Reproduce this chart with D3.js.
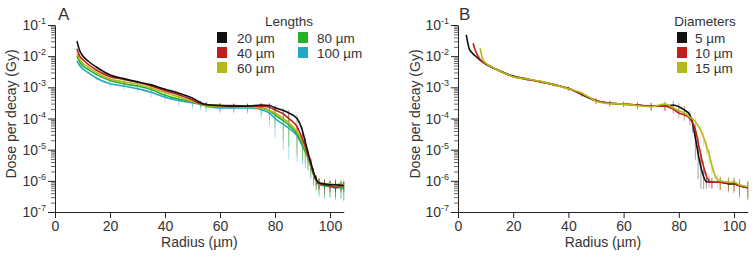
<!DOCTYPE html>
<html><head><meta charset="utf-8">
<script src="https://cdn.jsdelivr.net/npm/d3@7"></script>
<style>
body{margin:0;background:#fff}
text{font-family:"Liberation Sans",Arial,sans-serif;fill:#333}
</style>
</head><body><svg id="c" width="754" height="256"></svg>
<script>
// ---------- Panel A data (lengths) ----------
const radiusA = [8,9,10,12,15,20,25,30,35,40,45,50,53,55,60,65,70,75,78,80,83,85,88,90,91,92,93,94,95,96,98,100,102,104,105];
const doseA20  = [3.0e-2,1.5e-2,1.05e-2,7.0e-3,4.5e-3,2.5e-3,1.9e-3,1.5e-3,1.2e-3,8.7e-4,6.5e-4,4.5e-4,3.2e-4,2.8e-4,2.6e-4,2.5e-4,2.5e-4,2.7e-4,2.6e-4,2.2e-4,1.8e-4,1.5e-4,1.0e-4,4.0e-5,1.8e-5,8e-6,4e-6,1.9e-6,1.1e-6,8.5e-7,8e-7,7.5e-7,7.5e-7,7.2e-7,7.0e-7];
const doseA40  = [1.7e-2,1.0e-2,8.0e-3,5.5e-3,3.6e-3,2.2e-3,1.8e-3,1.45e-3,1.1e-3,7.8e-4,5.8e-4,3.9e-4,3.0e-4,2.8e-4,2.6e-4,2.6e-4,2.5e-4,2.5e-4,2.3e-4,1.9e-4,1.4e-4,1.0e-4,5.5e-5,2.2e-5,1.3e-5,6.5e-6,3.5e-6,1.8e-6,1.1e-6,8.5e-7,7.5e-7,7e-7,6e-7,7e-7,7e-7];
const doseA60  = [1.2e-2,8e-3,6e-3,4.5e-3,3.0e-3,1.85e-3,1.5e-3,1.25e-3,9.5e-4,6.7e-4,5.0e-4,3.5e-4,2.9e-4,2.6e-4,2.4e-4,2.4e-4,2.3e-4,2.1e-4,1.8e-4,1.5e-4,1.0e-4,7.4e-5,3.8e-5,1.8e-5,1.1e-5,6e-6,3.2e-6,1.7e-6,1.0e-6,8.5e-7,8e-7,8e-7,7.5e-7,8e-7,7.5e-7];
const doseA80  = [1.0e-2,6.5e-3,5e-3,3.8e-3,2.6e-3,1.65e-3,1.3e-3,1.1e-3,8.5e-4,5.6e-4,4.2e-4,3.4e-4,2.9e-4,2.6e-4,2.3e-4,2.3e-4,2.3e-4,2.2e-4,1.8e-4,1.3e-4,8.5e-5,6.2e-5,3.2e-5,1.5e-5,9e-6,5.5e-6,3e-6,1.6e-6,1.0e-6,8e-7,7e-7,6.5e-7,7e-7,6e-7,6e-7];
const doseA100 = [7e-3,5e-3,4e-3,3e-3,2.0e-3,1.3e-3,1.1e-3,9e-4,7e-4,4.8e-4,3.8e-4,3.2e-4,2.8e-4,2.5e-4,2.2e-4,2.2e-4,2.2e-4,1.9e-4,1.5e-4,1.0e-4,6.5e-5,4.9e-5,2.8e-5,1.3e-5,8.5e-6,5.5e-6,3e-6,1.6e-6,1.0e-6,7.5e-7,7e-7,6.5e-7,6e-7,6e-7,5.5e-7];
// relative (linear) standard errors
const errA20  = [.05,.05,.05,.05,.05,.05,.05,.08,.08,.1,.1,.1,.1,.15,.15,.15,.15,.15,.2,.2,.2,.25,.25,.3,.3,.3,.3,.3,.3,.35,.3,.3,.4,.3,.3];
const errA40  = [.05,.05,.05,.05,.05,.05,.08,.08,.1,.1,.1,.12,.15,.15,.2,.15,.2,.2,.25,.3,.3,.35,.4,.4,.4,.4,.4,.4,.4,.4,.45,.4,.5,.4,.4];
const errA60  = [.05,.05,.05,.05,.08,.1,.1,.1,.15,.15,.2,.2,.2,.2,.25,.25,.3,.35,.45,.5,.6,.65,.7,.6,.5,.5,.5,.5,.5,.45,.5,.45,.5,.45,.5];
const errA80  = [.05,.05,.05,.08,.1,.1,.15,.15,.2,.2,.2,.25,.25,.25,.3,.3,.3,.4,.5,.6,.75,.8,.8,.7,.6,.6,.6,.55,.5,.55,.6,.55,.6,.55,.6];
const errA100 = [.05,.05,.08,.1,.15,.2,.25,.25,.3,.3,.35,.35,.35,.35,.35,.35,.35,.45,.6,.75,.85,.9,.85,.75,.7,.6,.6,.55,.5,.6,.6,.55,.6,.55,.6];
const seriesNamesA = ["20 µm","40 µm","60 µm","80 µm","100 µm"];
const colorsA = ["#111111","#c0201c","#b3b81b","#26b02a","#22a8c2"];

// ---------- Panel B data (diameters) ----------
const radiusB5  = [3,4,5,6,8,10,12,15,20,25,30,35,40,45,50,55,60,65,70,75,78,80,82,84,85,86,87,88,89,90,92,95,98,100,102,105];
const doseB5    = [4.8e-2,1.8e-2,1.3e-2,1.07e-2,7.5e-3,5.6e-3,4.5e-3,3.4e-3,2.3e-3,1.85e-3,1.5e-3,1.2e-3,9.3e-4,5.8e-4,3.7e-4,3.1e-4,2.9e-4,2.7e-4,2.5e-4,2.5e-4,2.7e-4,2.4e-4,1.9e-4,1.3e-4,7e-5,2.4e-5,7.5e-6,2.8e-6,1.35e-6,9.3e-7,9e-7,9e-7,8e-7,8e-7,7e-7,6e-7];
const errB5     = [.03,.03,.03,.03,.03,.05,.05,.05,.08,.1,.1,.1,.12,.15,.2,.2,.2,.25,.3,.3,.35,.3,.3,.35,.5,.8,.85,.8,.6,.4,.35,.4,.4,.4,.5,.6];
const radiusB10 = [5.5,6,7,8,10,12,15,20,25,30,35,40,45,50,55,60,65,70,75,78,80,82,84,86,87,88,89,90,91,92,95,98,100,102,105];
const doseB10   = [2.6e-2,1.8e-2,1.1e-2,8e-3,5.8e-3,4.6e-3,3.4e-3,2.2e-3,1.8e-3,1.5e-3,1.2e-3,9.0e-4,6.0e-4,3.8e-4,3.1e-4,2.9e-4,2.7e-4,2.5e-4,2.5e-4,2.0e-4,1.5e-4,1.3e-4,1.0e-4,4.5e-5,1.7e-5,6.5e-6,2.8e-6,1.4e-6,1.0e-6,9e-7,9e-7,8.5e-7,8e-7,7e-7,6e-7];
const errB10    = [.03,.03,.03,.03,.05,.05,.05,.08,.1,.1,.12,.15,.15,.2,.2,.2,.2,.25,.3,.3,.3,.35,.4,.5,.6,.6,.5,.4,.4,.4,.45,.5,.5,.6,.5];
const radiusB15 = [8,9,10,12,15,20,25,30,35,40,45,50,55,60,65,70,75,78,80,82,84,86,88,89,90,91,92,93,94,95,98,100,102,105];
const doseB15   = [1.8e-2,8e-3,6e-3,4.6e-3,3.4e-3,2.2e-3,1.85e-3,1.55e-3,1.2e-3,9.0e-4,6.5e-4,3.6e-4,3.0e-4,2.9e-4,2.6e-4,2.4e-4,2.9e-4,2.2e-4,1.8e-4,1.5e-4,1.1e-4,8e-5,4e-5,2.5e-5,1.3e-5,7e-6,3e-6,1.6e-6,1.1e-6,1.0e-6,9e-7,9e-7,7.5e-7,6.5e-7];
const errB15    = [.03,.03,.03,.05,.05,.08,.1,.1,.12,.15,.15,.2,.2,.2,.25,.25,.3,.3,.3,.35,.4,.4,.45,.5,.5,.5,.5,.45,.45,.5,.5,.5,.55,.6];
const seriesNamesB = ["5 µm","10 µm","15 µm"];
const colorsB = ["#111111","#c0201c","#b3b81b"];

const xTicks = [0,20,40,60,80,100];
const yExponents = [-1,-2,-3,-4,-5,-6,-7];
const yMinorMultipliers = [2,3,4,5,6,7,8,9];

const svg = d3.select("#c");

function drawPanel(o) {
  const g = svg.append("g");
  const x = d3.scaleLinear().domain([0,105]).range([o.x0,o.x1]);
  const y = d3.scaleLog().domain([1e-7,1e-1]).range([212,25]);

  // minor y ticks
  const minor = [];
  yExponents.slice(1).forEach(e => yMinorMultipliers.forEach(m => minor.push(m*Math.pow(10,e))));
  const gm = g.append("g").attr("transform",`translate(${o.x0},0)`)
    .call(d3.axisLeft(y).tickValues(minor).tickSize(4).tickFormat(""));
  gm.select(".domain").remove();
  gm.selectAll("line").attr("stroke","#666");

  const majors = yExponents.map(e => Math.pow(10,e));
  const gy = g.append("g").attr("transform",`translate(${o.x0},0)`)
    .call(d3.axisLeft(y).tickValues(majors).tickSize(7).tickSizeOuter(0).tickFormat(""));
  gy.selectAll("line,path").attr("stroke","#222");
  yExponents.forEach(e => {
    const t = g.append("text").attr("x",o.x0-9).attr("y",y(Math.pow(10,e))+5)
      .attr("text-anchor","end").attr("font-size",14);
    t.append("tspan").text("10");
    t.append("tspan").attr("dy",-6).attr("font-size",9).text(String(e));
  });

  const gx = g.append("g").attr("transform","translate(0,212)")
    .call(d3.axisBottom(x).tickValues(xTicks).tickSize(6).tickSizeOuter(0).tickPadding(3));
  gx.selectAll("line,path").attr("stroke","#222");
  gx.selectAll("text").attr("font-size",14).attr("fill","#333")
    .style("font-family",'"Liberation Sans",Arial,sans-serif');

  // titles
  g.append("text").attr("x",(o.x0+o.x1)/2).attr("y",247).attr("text-anchor","middle")
    .attr("font-size",14).text("Radius (µm)");
  g.append("text").attr("transform",`translate(${o.yTitleX},114) rotate(-90)`)
    .attr("text-anchor","middle").attr("font-size",14).text("Dose per decay (Gy)");
  g.append("text").attr("x",o.labelX).attr("y",20).attr("font-size",17).attr("fill","#222").text(o.label);

  // error bars then lines
  const line = d3.line().x(d=>x(d[0])).y(d=>y(d[1])).curve(d3.curveMonotoneX);
  o.series.forEach(s => {
    const pts = s.r.map((r,i)=>[r,s.v[i],s.e[i]]);
    g.append("g").selectAll("line").data(pts).join("line")
      .attr("x1",d=>x(d[0])).attr("x2",d=>x(d[0]))
      .attr("y1",d=>y(Math.max(1.2e-7,d[1]*(1-d[2])))).attr("y2",d=>y(d[1]*(1+d[2])))
      .attr("stroke",s.c).attr("stroke-opacity",0.4).attr("stroke-width",1);
  });
  o.series.forEach(s => {
    const pts = s.r.map((r,i)=>[r,s.v[i]]);
    g.append("path").datum(pts).attr("d",line).attr("fill","none")
      .attr("stroke",s.c).attr("stroke-width",1.6).attr("stroke-linejoin","round");
  });

  // legend
  g.append("text").attr("x",o.legend.titleX).attr("y",25.5).attr("text-anchor","middle")
    .attr("font-size",13.5).text(o.legend.title);
  o.legend.items.forEach(it => {
    g.append("rect").attr("x",it.sx).attr("y",it.row*15+32).attr("width",10).attr("height",11).attr("fill",it.c);
    g.append("text").attr("x",it.tx).attr("y",it.row*15+42.5).attr("font-size",13.5).text(it.name);
  });
}

drawPanel({
  x0:55, x1:343.75, yTitleX:16, label:"A", labelX:58,
  series:[
    {r:radiusA,v:doseA100,e:errA100,c:colorsA[4]},
    {r:radiusA,v:doseA80,e:errA80,c:colorsA[3]},
    {r:radiusA,v:doseA60,e:errA60,c:colorsA[2]},
    {r:radiusA,v:doseA40,e:errA40,c:colorsA[1]},
    {r:radiusA,v:doseA20,e:errA20,c:colorsA[0]}
  ],
  legend:{title:"Lengths", titleX:289, items:[
    {name:seriesNamesA[0],c:colorsA[0],row:0,sx:217,tx:237},
    {name:seriesNamesA[1],c:colorsA[1],row:1,sx:217,tx:237},
    {name:seriesNamesA[2],c:colorsA[2],row:2,sx:217,tx:237},
    {name:seriesNamesA[3],c:colorsA[3],row:0,sx:298,tx:317},
    {name:seriesNamesA[4],c:colorsA[4],row:1,sx:298,tx:317}
  ]}
});

drawPanel({
  x0:458, x1:747.8, yTitleX:420, label:"B", labelX:459,
  series:[
    {r:radiusB5,v:doseB5,e:errB5,c:colorsB[0]},
    {r:radiusB10,v:doseB10,e:errB10,c:colorsB[1]},
    {r:radiusB15,v:doseB15,e:errB15,c:colorsB[2]}
  ],
  legend:{title:"Diameters", titleX:705, items:[
    {name:seriesNamesB[0],c:colorsB[0],row:0,sx:677,tx:695},
    {name:seriesNamesB[1],c:colorsB[1],row:1,sx:677,tx:695},
    {name:seriesNamesB[2],c:colorsB[2],row:2,sx:677,tx:695}
  ]}
});
</script>
</body></html>
